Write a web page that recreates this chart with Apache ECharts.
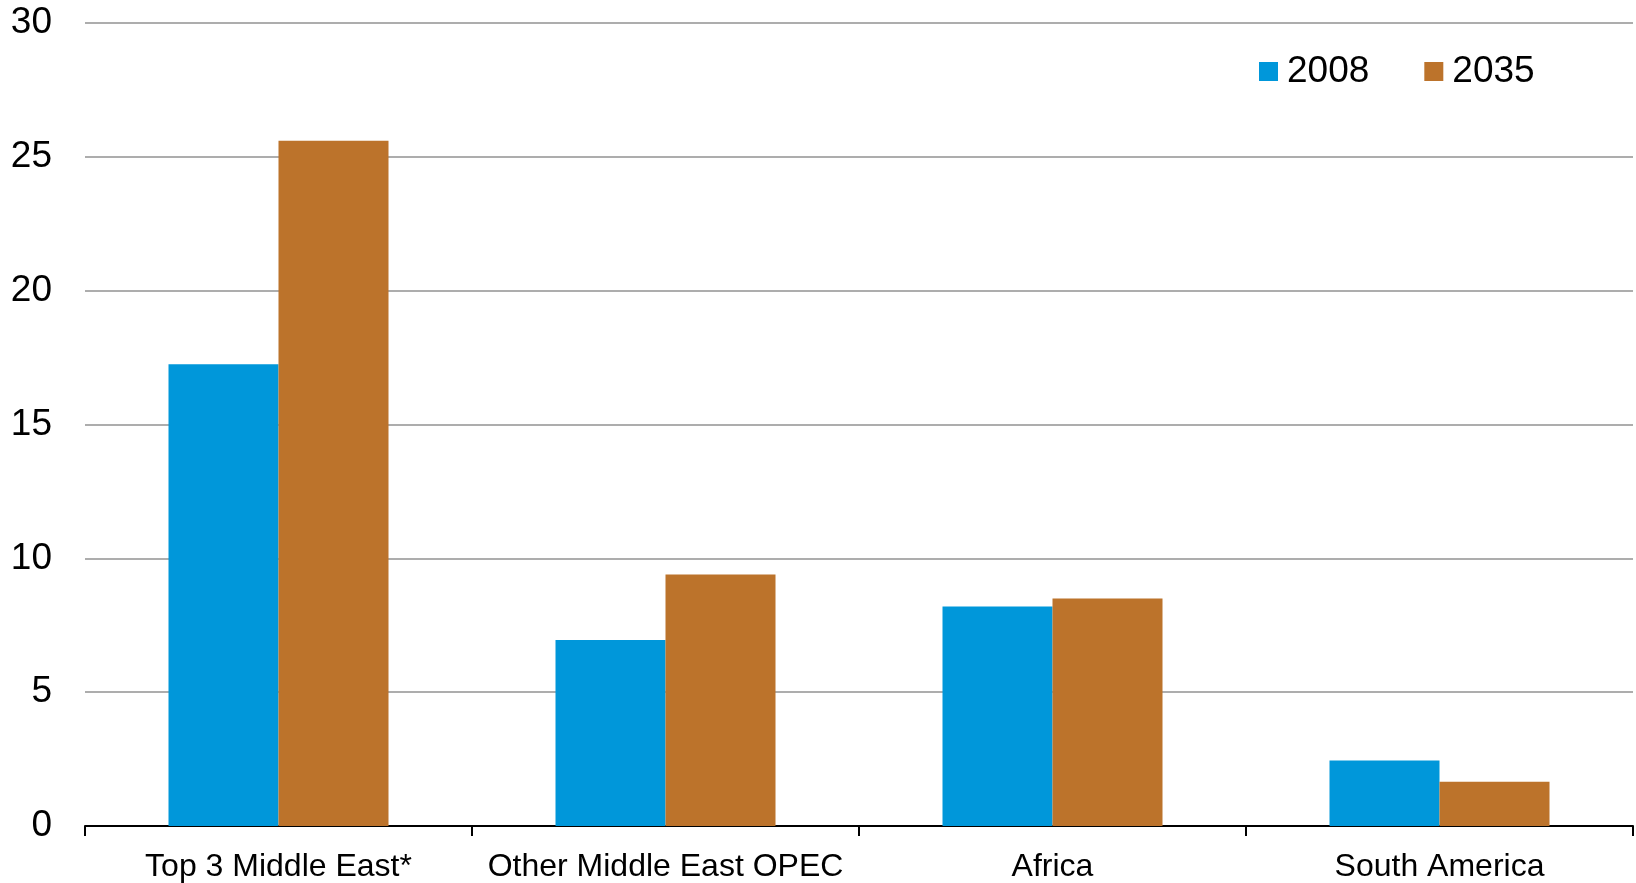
<!DOCTYPE html>
<html>
<head>
<meta charset="utf-8">
<script src="https://cdn.jsdelivr.net/npm/echarts@6/dist/echarts.min.js"></script>
<style>
  html, body { margin: 0; padding: 0; background: #fff; }
  #chart { width: 1636px; height: 883px; }
</style>
</head>
<body>
<div id="chart"></div>
<script>
// data
const regions = ['Top 3 Middle East*', 'Other Middle East OPEC', 'Africa', 'South America']
const values2008 = [17.25, 6.95, 8.2, 2.45]
const values2035 = [25.6, 9.4, 8.5, 1.65]
const seriesNames = ['2008', '2035']

const chart = echarts.init(document.getElementById('chart'))
const font = '"Liberation Sans", Arial, sans-serif'

const option = {
  animation: false,
  textStyle: { fontFamily: font },
  grid: {
    left: 85,
    right: 3,
    top: 23,
    bottom: 56
  },
  legend: {
    data: seriesNames,
    left: 1254,
    top: 48,
    icon: 'rect',
    itemWidth: 19,
    itemHeight: 19,
    itemGap: 55,
    textStyle: {
      fontSize: 37,
      color: '#000',
      fontFamily: font,
      padding: [0, 0, 0, 4]
    }
  },
  xAxis: {
    type: 'category',
    data: regions,
    axisLine: { lineStyle: { color: '#000', width: 2 } },
    axisTick: { show: true, length: 10, lineStyle: { color: '#000', width: 2 } },
    axisLabel: {
      fontSize: 32,
      color: '#000',
      margin: 25,
      interval: 0,
      fontFamily: font
    }
  },
  yAxis: {
    type: 'value',
    min: 0,
    max: 30,
    interval: 5,
    axisLine: { show: false },
    axisTick: { show: false },
    axisLabel: {
      fontSize: 37,
      color: '#000',
      margin: 33,
      fontFamily: font
    },
    splitLine: { lineStyle: { color: '#ADADAD', width: 2 } }
  },
  series: [
    {
      name: seriesNames[0],
      type: 'bar',
      data: values2008,
      barWidth: 110,
      barGap: '0%',
      itemStyle: { color: '#0097DA' }
    },
    {
      name: seriesNames[1],
      type: 'bar',
      data: values2035,
      barWidth: 110,
      barGap: '0%',
      itemStyle: { color: '#BC732B' }
    }
  ]
}

chart.setOption(option)
</script>
</body>
</html>
